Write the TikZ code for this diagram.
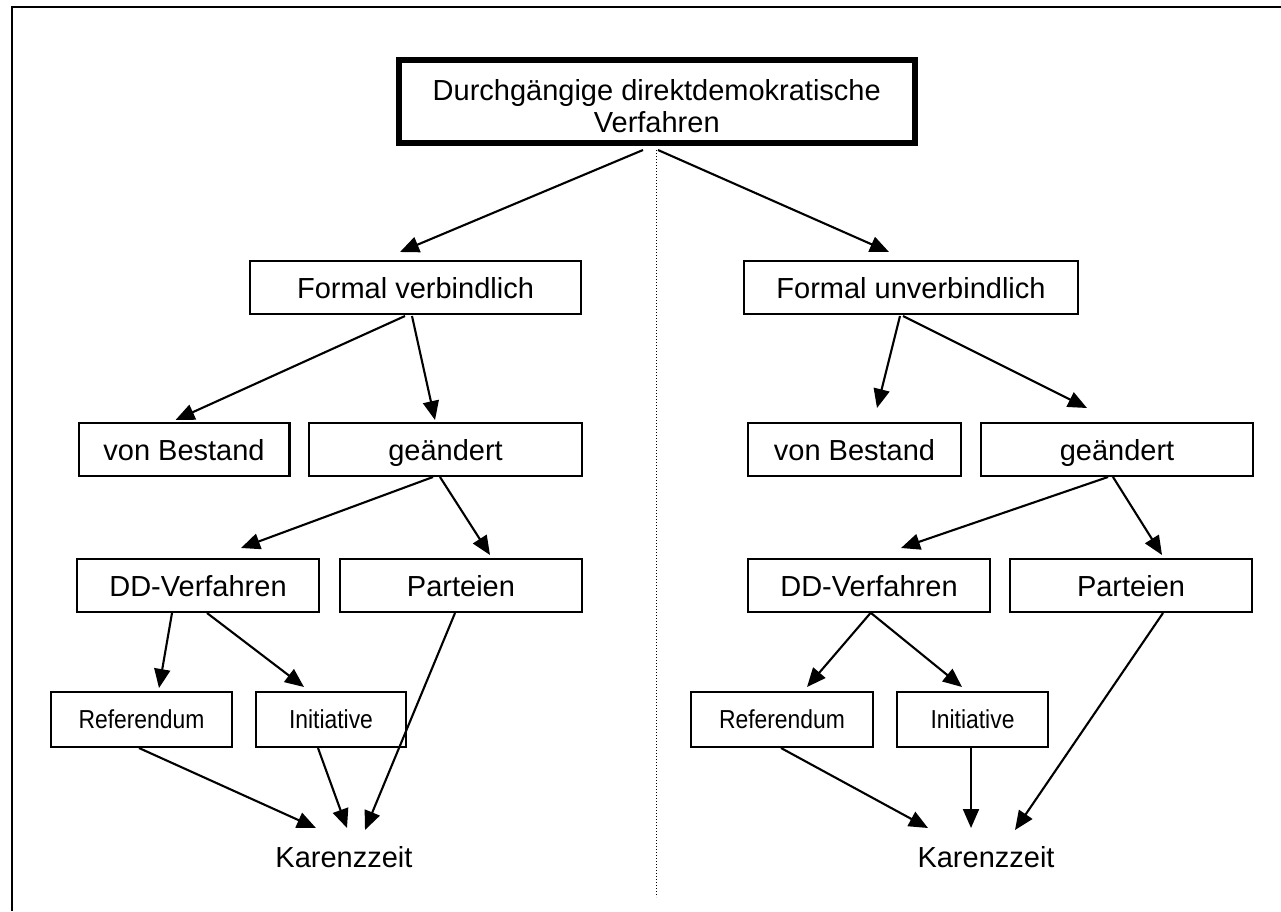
\documentclass[tikz,border=0pt]{standalone}
\usepackage{fontspec}
\setmainfont{Liberation Sans}
\newfontfamily\narrowfont{Liberation Sans}[FakeStretch=0.88]
\usetikzlibrary{arrows.meta}
\begin{document}
\begin{tikzpicture}[x=1pt,y=-1pt,
  box/.style={draw, line width=2.1pt, inner sep=0pt, minimum height=52.9pt,
    font=\fontsize{29}{32}\selectfont, text height=21pt, text depth=0pt},
  smallbox/.style={draw, line width=2.1pt, inner sep=0pt, minimum height=54.9pt,
    font=\narrowfont\fontsize{26}{28}\selectfont, text height=18.6pt, text depth=0pt},
  plain/.style={inner sep=0pt, font=\fontsize{29}{32}\selectfont, text height=21pt, text depth=0pt},
  arr/.style={line width=2.1pt, -{Triangle[length=19pt,width=16pt]}},
  frame/.style={line width=2pt},
  sep/.style={line width=1.3pt, dash pattern=on 1.3pt off 1.7pt}]
\path[use as bounding box, fill=white] (0,0) rectangle (1281,911);
\draw[frame] (1281,7) -- (12,7) -- (12,911);

% top node
\node[draw, line width=6pt, inner sep=0pt, minimum width=515.5pt, minimum height=83pt,
  align=center, font=\fontsize{29}{32}\selectfont] (top) at (656.75,101.5)
  {\rule{0pt}{31pt}Durchgängige direktdemokratische\\Verfahren};

% level 2
\node[box, minimum width=330.9pt] (fv) at (415.5,287.5) {Formal verbindlich};
\node[box, minimum width=333.9pt] (fu) at (911,287.5) {Formal unverbindlich};

% level 3
\node[box, minimum width=210.9pt] (vbl) at (184,449.5) {von Bestand};
\node[box, minimum width=272.9pt] (gl) at (445.5,449.5) {geändert};
\node[box, minimum width=212.9pt] (vbr) at (854.5,449.5) {von Bestand};
\node[box, minimum width=271.4pt] (gr) at (1117,449.5) {geändert};

% level 4
\node[box, minimum width=241.9pt] (ddl) at (198,585.5) {DD-Verfahren};
\node[box, minimum width=241.9pt] (pl) at (461,585.5) {Parteien};
\node[box, minimum width=241.9pt] (ddr) at (869,585.5) {DD-Verfahren};
\node[box, minimum width=242.4pt] (pr) at (1131,585.5) {Parteien};

% level 5
\node[smallbox, minimum width=180.9pt] (refl) at (141.5,719.5) {Referendum};
\node[smallbox, minimum width=149.9pt] (initl) at (331,719.5) {Initiative};
\node[smallbox, minimum width=181.9pt] (refr) at (782,719.5) {Referendum};
\node[smallbox, minimum width=150.9pt] (initr) at (972.5,719.5) {Initiative};

% bottom
\node[plain] (kl) at (344,857) {Karenzzeit};
\node[plain] (kr) at (986,857) {Karenzzeit};

% separator
\coordinate (sepend) at (656.75,897);
\draw[sep] ([shift={(0,4)}]top.south) -- (sepend);

% arrows
\draw[arr] ([shift={(-13.75,4)}]top.south) -- ([shift={(-15.5,-8)}]fv.north);
\draw[arr] ([shift={(1.25,4)}]top.south) -- ([shift={(-22,-8)}]fu.north);

\draw[arr] ([shift={(-10.5,1)}]fv.south) -- ([shift={(-8.5,-2)}]vbl.north);
\draw[arr] ([shift={(-3.5,1)}]fv.south) -- ([shift={(-10.5,-2)}]gl.north);
\draw[arr] ([shift={(-11,1)}]fu.south) -- ([shift={(22.5,-14)}]vbr.north);
\draw[arr] ([shift={(-8,1)}]fu.south) -- ([shift={(-30,-14)}]gr.north);

\draw[arr] ([shift={(-12.5,0)}]gl.south) -- ([shift={(43,-10)}]ddl.north);
\draw[arr] ([shift={(-5.5,0)}]gl.south) -- ([shift={(29,-3)}]pl.north);
\draw[arr] ([shift={(-9,0)}]gr.south) -- ([shift={(32,-10)}]ddr.north);
\draw[arr] ([shift={(-4,0)}]gr.south) -- ([shift={(31,-3)}]pr.north);

\draw[arr] ([shift={(-26,0)}]ddl.south) -- ([shift={(17.5,-3)}]refl.north);
\draw[arr] ([shift={(9,0)}]ddl.south) -- ([shift={(-27,-4)}]initl.north);
\draw[arr] ([shift={(1.5,0)}]ddr.south) -- ([shift={(25,-4)}]refr.north);
\draw[arr] ([shift={(2,0)}]ddr.south) -- ([shift={(-10.5,-4)}]initr.north);

\draw[arr] ([shift={(-2.5,0)}]refl.south) -- ([shift={(-28,-29)}]kl.center);
\draw[arr] ([shift={(-13,0)}]initl.south) -- ([shift={(3,-29)}]kl.center);
\draw[arr] ([shift={(-6,0)}]pl.south) -- ([shift={(21,-27)}]kl.center);
\draw[arr] ([shift={(-1,0)}]refr.south) -- ([shift={(-58,-29)}]kr.center);
\draw[arr] ([shift={(-1.5,0)}]initr.south) -- ([shift={(-15,-29)}]kr.center);
\draw[arr] ([shift={(32,0)}]pr.south) -- ([shift={(29,-27)}]kr.center);
\end{tikzpicture}
\end{document}
